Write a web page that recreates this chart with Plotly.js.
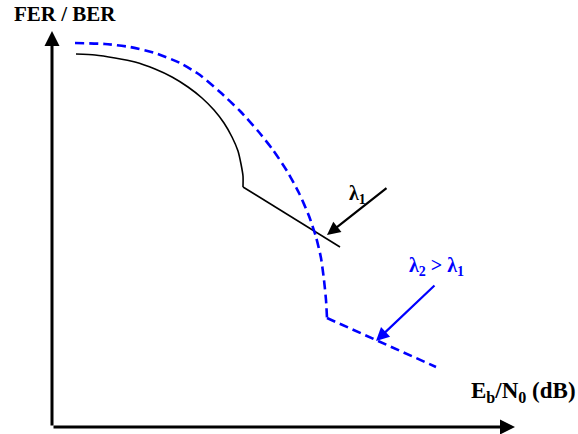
<!DOCTYPE html>
<html>
<head>
<meta charset="utf-8">
<script src="https://cdn.plot.ly/plotly-3.0.1.min.js"></script>
<style>
  html, body { margin: 0; padding: 0; background: #fff; }
  #chart { width: 578px; height: 434px; }
</style>
</head>
<body>
<div id="chart"></div>
<script>
// schematic FER/BER vs Eb/N0 (pixel-like units, y down)
const blackCurveX = [76, 95, 115, 135, 155, 172, 188, 202, 214, 224, 232, 238, 241, 243, 243];
const blackCurveY = [54, 55, 58, 62, 69, 77, 87, 98, 110, 123, 137, 151, 164, 176, 187];
const blackFloorX = [243, 340];
const blackFloorY = [187, 247];

const blueCurveX = [75, 105, 130, 155, 180, 200, 220, 240, 258, 273, 287, 299, 309, 316, 321, 324, 326, 327];
const blueCurveY = [43, 44, 47, 53, 63, 75, 92, 111, 131, 150, 171, 193, 216, 237, 258, 280, 300, 318];
const blueFloorX = [327, 436];
const blueFloorY = [318, 367];

const axisOrigin = [52, 427];
const axisEnds = [[52, 31], [515, 427]];

const lambda1Arrow = { from: [388, 187], to: [327, 235], label: 'λ<sub>1</sub>', at: [357, 194] };
const lambda2Arrow = { from: [436, 284], to: [376, 341], label: 'λ<sub>2</sub> > λ<sub>1</sub>', at: [436, 266] };

const yTitle = 'FER / BER';
const xTitle = 'E<sub>b</sub>/N<sub>0</sub> (dB)';

const serif = 'Liberation Serif';
const blue = '#0000ff';

const traces = [
  { x: blackCurveX, y: blackCurveY, mode: 'lines', line: { color: '#000', width: 1.6, shape: 'spline', smoothing: 0.6 }, hoverinfo: 'skip' },
  { x: blackFloorX, y: blackFloorY, mode: 'lines', line: { color: '#000', width: 1.6 }, hoverinfo: 'skip' },
  { x: blueCurveX, y: blueCurveY, mode: 'lines',
    line: { color: blue, width: 2.6, dash: '9px,5px', shape: 'spline', smoothing: 0.6 }, hoverinfo: 'skip' },
  { x: blueFloorX, y: blueFloorY, mode: 'lines',
    line: { color: blue, width: 2.6, dash: '9px,5px' }, hoverinfo: 'skip' }
];

function arrow(from, to, color, width, size) {
  return {
    x: to[0], y: to[1], ax: from[0], ay: from[1], xref: 'x', yref: 'y', axref: 'x', ayref: 'y',
    text: '', showarrow: true, arrowhead: 2, arrowsize: size, arrowwidth: width, arrowcolor: color
  };
}
function label(text, at, color, size) {
  return { x: at[0], y: at[1], xref: 'x', yref: 'y', text: '<b>' + text + '</b>', showarrow: false,
    font: { family: serif, size: size, color: color } };
}

const annotations = [
  arrow(axisOrigin, axisEnds[0], '#000', 3, 1),
  arrow(axisOrigin, axisEnds[1], '#000', 3, 1),
  arrow(lambda1Arrow.from, lambda1Arrow.to, '#000', 2.2, 1.2),
  arrow(lambda2Arrow.from, lambda2Arrow.to, blue, 2.2, 1.2),
  label(lambda1Arrow.label, lambda1Arrow.at, '#000', 20),
  label(lambda2Arrow.label, lambda2Arrow.at, blue, 20),
  { x: 12, y: 14, xref: 'x', yref: 'y', xanchor: 'left', text: '<b>' + yTitle + '</b>', showarrow: false,
    font: { family: serif, size: 21, color: '#000' } },
  { x: 578, y: 392, xref: 'x', yref: 'y', xanchor: 'right', text: '<b>' + xTitle + '</b>', showarrow: false,
    font: { family: serif, size: 23, color: '#000' } }
];

const layout = {
  width: 578, height: 434,
  margin: { l: 0, r: 0, t: 0, b: 0 },
  showlegend: false,
  paper_bgcolor: '#fff', plot_bgcolor: '#fff',
  xaxis: { range: [0, 578], visible: false, fixedrange: true },
  yaxis: { range: [434, 0], visible: false, fixedrange: true },
  annotations: annotations
};

Plotly.newPlot('chart', traces, layout, { displayModeBar: false, staticPlot: true });
</script>
</body>
</html>
